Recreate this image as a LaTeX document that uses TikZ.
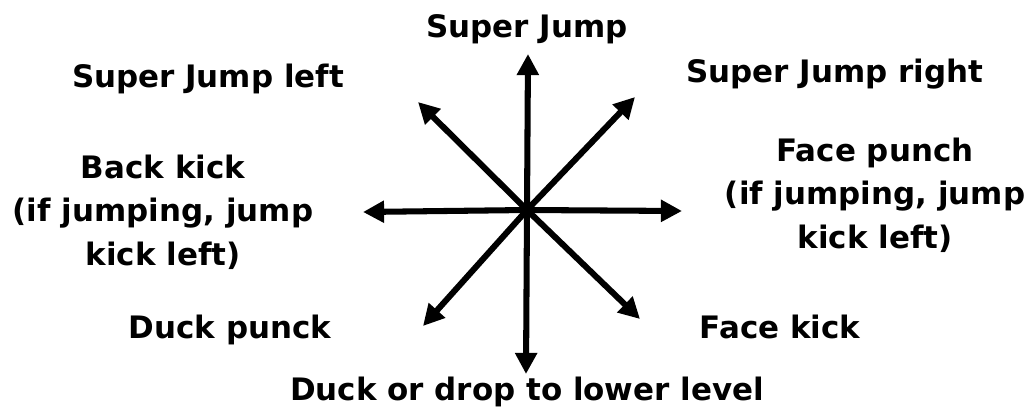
\documentclass[tikz,border=0pt]{standalone}
\usepackage{fontspec}
\setmainfont{DejaVu Sans}
\usetikzlibrary{arrows.meta, positioning}

\begin{document}
\begin{tikzpicture}[x=0.025cm, y=-0.025cm]

    % Define styles
    \tikzset{
        move/.style = {line width=4.3pt, -{Triangle[length=15pt, width=15pt]}},
        label/.style = {font=\fontsize{22}{31}\selectfont\bfseries, align=center, inner sep=0pt}
    }

    \useasboundingbox (0,0) rectangle (1033,409);

    % Hub and arrow ends
    \coordinate (hub) at (527,210);
    \coordinate (up) at (528,54);
    \coordinate (down) at (526,374);
    \coordinate (left) at (363,212);
    \coordinate (right) at (682,211);
    \coordinate (upleft) at (418,102);
    \coordinate (upright) at (635,97);
    \coordinate (downleft) at (423,326);
    \coordinate (downright) at (640,319);

    % Labels
    \node (jump) [label, anchor=base] at (527,37) {Super Jump};
    \node (jumpleft) [label, anchor=base] at (208,87) {Super Jump left};
    \node (jumpright) [label, anchor=base] at (835,82) {Super Jump right};
    \node (backkick) [label] at (163,212) {Back kick\\(if jumping, jump\\kick left)};
    \node (facepunch) [label] at (875,195) {Face punch\\(if jumping, jump\\kick left)};
    \node (duckpunch) [label, anchor=base] at (230,338) {Duck punck};
    \node (facekick) [label, anchor=base] at (780,338) {Face kick};
    \node (duck) [label, anchor=base] at (527,400) {Duck or drop to lower level};

    % Arrows
    \foreach \dir in {up, down, left, right, upleft, upright, downleft, downright}
        \draw [move] (hub) -- (\dir);

\end{tikzpicture}
\end{document}
